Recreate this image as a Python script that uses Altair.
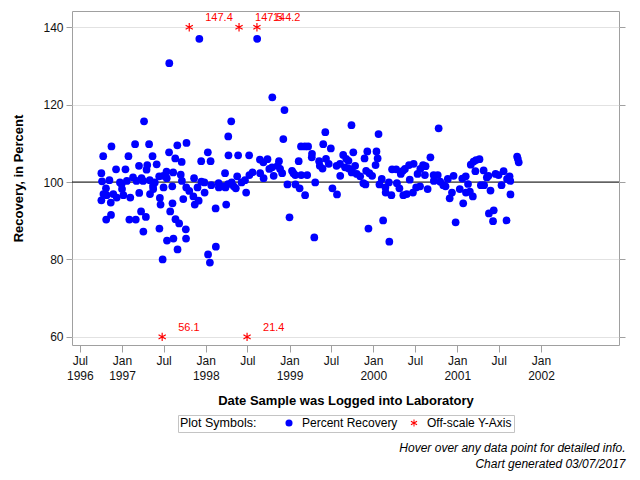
import altair as alt
import pandas as pd

# ---------------- data ----------------
dates = [
    "1996-10-03", "1996-10-06", "1996-10-11", "1996-10-12", "1996-10-03", "1996-10-23", "1996-10-26",
    "1996-11-07", "1996-11-13", "1996-10-24", "1996-11-14", "1996-11-16", "1996-11-24", "1996-12-06",
    "1996-12-09", "1996-12-23", "1996-12-30", "1997-01-01", "1997-01-07", "1997-01-16", "1997-01-22",
    "1997-01-29", "1997-02-02", "1997-02-06", "1997-02-18", "1997-02-27", "1997-03-02", "1997-03-05",
    "1997-03-16", "1997-03-17", "1997-03-27", "1997-03-25", "1997-04-03", "1997-04-04", "1997-04-07",
    "1997-04-15", "1997-04-18", "1997-04-21", "1997-04-29", "1997-05-02", "1997-05-03", "1997-05-14",
    "1997-05-16", "1997-05-17", "1997-05-24", "1997-06-01", "1997-06-12", "1997-06-15", "1997-06-18",
    "1997-06-13", "1997-06-27", "1997-06-30", "1997-07-01", "1997-07-14", "1997-07-15", "1997-07-16",
    "1997-07-25", "1997-07-26", "1997-07-30", "1997-08-08", "1997-08-09", "1997-08-12", "1997-08-13",
    "1997-08-21", "1997-08-22", "1997-08-30", "1997-08-31", "1997-09-07", "1997-09-14", "1997-09-18",
    "1997-09-19", "1997-09-25", "1997-10-06", "1997-10-07", "1997-10-08", "1997-10-09", "1997-10-21",
    "1997-11-08", "1997-11-11", "1997-11-14", "1997-11-26", "1997-12-01", "1997-12-04", "1997-12-12",
    "1997-12-13", "1997-12-26", "1997-12-27", "1998-01-10", "1998-01-11", "1998-01-19", "1998-01-22",
    "1998-01-25", "1998-02-13", "1998-02-14", "1998-02-26", "1998-02-27", "1998-03-17", "1998-03-28",
    "1998-03-26", "1998-03-31", "1998-04-09", "1998-04-22", "1998-04-10", "1998-04-08", "1998-05-22",
    "1998-04-24", "1998-05-03", "1998-05-12", "1998-05-18", "1998-06-06", "1998-06-21", "1998-06-26",
    "1998-07-09", "1998-07-10", "1998-07-24", "1998-08-13", "1998-08-25", "1998-09-09", "1998-09-27",
    "1998-08-26", "1998-09-10", "1998-10-05", "1998-10-17", "1998-10-24", "1998-10-18", "1998-11-16",
    "1998-11-10", "1998-11-21", "1998-11-30", "1998-12-10", "1998-12-05", "1998-12-23", "1999-01-01",
    "1999-01-12", "1999-01-18", "1999-01-26", "1999-01-27", "1999-02-14", "1999-02-10", "1999-02-20",
    "1999-03-09", "1999-03-23", "1999-02-21", "1999-03-19", "1999-03-10", "1999-04-09", "1999-04-08",
    "1999-04-23", "1999-04-19", "1999-05-10", "1999-05-13", "1999-05-25", "1999-05-28", "1999-06-06",
    "1999-06-09", "1999-06-21", "1999-06-30", "1999-07-07", "1999-07-27", "1999-07-25", "1999-08-09",
    "1999-08-10", "1999-08-23", "1999-09-05", "1999-09-15", "1999-08-31", "1999-09-16", "1999-09-30",
    "1999-10-14", "1999-09-29", "1999-10-21", "1999-11-05", "1999-09-28", "1999-10-06", "1999-11-19",
    "1999-11-28", "1999-11-24", "1999-12-06", "1999-12-01", "1999-12-15", "1999-12-27", "1999-12-11",
    "2000-01-15", "2000-01-20", "2000-01-11", "2000-01-24", "2000-01-28", "2000-02-07", "2000-02-13",
    "2000-02-23", "2000-02-24", "2000-03-09", "2000-03-20", "2000-03-11", "2000-03-23", "2000-04-10",
    "2000-04-30", "2000-05-09", "2000-05-18", "2000-06-05", "2000-06-25", "2000-04-13", "2000-04-24",
    "2000-05-11", "2000-05-26", "2000-06-08", "2000-06-22", "2000-07-06", "2000-07-23", "2000-08-25",
    "2000-07-12", "2000-07-24", "2000-08-05", "2000-08-16", "2000-08-13", "2000-09-06", "2000-09-20",
    "2000-10-08", "2000-09-21", "2000-10-19", "2000-10-12", "2000-11-01", "2000-11-11", "2000-11-21",
    "2000-11-29", "2000-12-09", "2000-12-16", "2000-12-25", "2001-01-12", "2001-01-23", "2001-01-27",
    "2001-02-07", "2001-02-17", "2001-02-25", "2001-02-08", "2001-03-10", "2001-03-01", "2001-03-13",
    "2001-03-24", "2001-04-08", "2001-03-21", "2001-04-26", "2001-04-14", "2001-04-28", "2001-05-10",
    "2001-05-17", "2001-05-26", "2001-05-19", "2001-06-09", "2001-06-06", "2001-06-17", "2001-06-30",
    "2001-07-13", "2001-07-22", "2001-08-06", "2001-08-17", "2001-08-20", "2001-08-04", "2001-08-21",
    "2001-09-19", "2001-09-22", "2001-09-26",
]
recovery = [
    102.3, 100.2, 106.7, 96.9, 95.3, 98.4, 96.6,
    100.5, 94.7, 90.3, 91.5, 109.2, 96.9, 103.3,
    96.0, 99.9, 99.5, 98.2, 96.6, 103.3, 100.3,
    106.7, 90.3, 96.0, 101.2, 109.8, 90.3, 100.3,
    104.2, 97.2, 101.0, 92.4, 100.3, 87.2, 115.7,
    91.0, 103.2, 104.4, 109.8, 100.5, 96.9, 106.7,
    99.0, 98.2, 99.9, 104.6, 101.5, 95.9, 94.2,
    88.0, 80.0, 101.6, 98.6, 102.7, 101.0, 84.9,
    107.7, 130.7, 92.4, 98.9, 94.5, 102.5, 85.4,
    106.1, 90.4, 109.5, 82.6, 89.3, 101.9, 105.2,
    100.3, 95.6, 87.8, 85.4, 98.6, 110.1, 97.7,
    96.3, 101.0, 94.2, 98.6, 95.2, 137.0, 105.4,
    100.1, 99.9, 97.3, 107.7, 81.3, 79.2, 105.4,
    99.2, 93.2, 83.3, 99.7, 98.6, 98.9, 98.6,
    102.3, 94.2, 111.8, 115.7, 106.9, 99.5, 106.9,
    99.9, 98.9, 98.4, 101.5, 99.9, 100.5, 97.3,
    106.9, 101.8, 102.5, 137.0, 105.8, 105.1, 105.9,
    102.3, 101.0, 103.4, 103.8, 101.6, 121.9, 105.4,
    104.2, 103.4, 102.3, 118.6, 111.1, 99.4, 90.9,
    102.9, 102.3, 101.8, 99.4, 98.4, 105.4, 109.2,
    109.2, 109.2, 101.8, 101.8, 96.6, 107.3, 106.4,
    99.9, 85.7, 105.4, 104.2, 103.5, 109.8, 112.9,
    106.0, 104.7, 108.7, 98.4, 96.8, 104.2, 104.7,
    101.6, 107.0, 106.0, 105.5, 103.8, 103.5, 103.2,
    104.2, 102.5, 102.1, 101.5, 114.7, 107.7, 99.7,
    99.4, 106.1, 107.9, 102.9, 102.3, 101.6, 88.0,
    107.9, 106.1, 104.4, 112.4, 99.4, 100.8, 90.1,
    98.6, 97.3, 99.9, 96.6, 84.6, 103.3, 103.3,
    102.1, 102.9, 103.4, 104.4, 104.7, 99.7, 98.4,
    96.6, 96.9, 100.6, 97.3, 98.6, 98.9, 98.2,
    102.1, 103.4, 104.4, 104.1, 101.8, 106.4, 101.8,
    101.8, 100.3, 100.1, 113.9, 99.2, 98.9, 100.8,
    95.8, 97.3, 101.6, 89.6, 98.2, 100.9, 94.5,
    101.5, 99.5, 97.5, 97.3, 96.3, 104.5, 105.3,
    105.7, 105.9, 102.8, 103.0, 99.2, 99.2, 101.2,
    101.6, 97.8, 91.9, 92.7, 89.9, 102.1, 101.8,
    99.2, 102.8, 100.8, 101.5, 100.3, 90.1, 96.8,
    106.6, 106.0, 105.1,
]

off_dates = ["1997-06-25", "1997-10-21", "1998-05-26", "1998-06-30", "1998-08-12"]
off_values = [56.1, 147.4, 147.5, 21.4, 144.2]

y_ticks = [60, 80, 100, 120, 140]
x_tick_months = [(1996, 7), (1997, 1), (1997, 7), (1998, 1), (1998, 7), (1999, 1),
                 (1999, 7), (2000, 1), (2000, 7), (2001, 1), (2001, 7), (2002, 1)]
legend_labels = ["Percent Recovery", "Off-scale Y-Axis"]
reference_value = [100]
y_low, y_high = 60, 140          # off-scale values are drawn at these bounds

# ---------------- tables ----------------
pts = pd.DataFrame({"date": dates, "y": recovery, "sym": legend_labels[0]})
off = pd.DataFrame({"date": off_dates, "value": off_values})
off["y"] = off["value"].clip(y_low, y_high)
off["label"] = off["value"].map(lambda v: f"{v:.1f}")
off["sym"] = legend_labels[1]
ref = pd.DataFrame({"ref": reference_value})

STAR = ("M-0.14,-1L0.14,-1L0.14,1L-0.14,1Z "
        "M0.796,-0.621L0.936,-0.379L-0.796,0.621L-0.936,0.379Z "
        "M-0.936,-0.379L-0.796,-0.621L0.936,0.379L0.796,0.621Z")

FONT = "Liberation Sans"
y_domain = [57.9, 144.2]
x_domain = [alt.DateTime(year=1996, month=5, date=28, utc=True),
            alt.DateTime(year=2002, month=12, date=7, utc=True)]
x_ticks = [alt.DateTime(year=y, month=m, date=1, utc=True) for y, m in x_tick_months]

x_enc = alt.X(
    "date:T",
    scale=alt.Scale(type="utc", domain=x_domain),
    axis=alt.Axis(
        values=x_ticks,
        labelExpr=("(utcmonth(datum.value) == 0 || datum.index == 0) ? "
                   "[utcFormat(datum.value, '%b'), utcFormat(datum.value, '%Y')] : "
                   "utcFormat(datum.value, '%b')"),
        labelLineHeight=15, labelFontSize=12, labelPadding=3, labelFlush=False,
        labelOverlap=False, labelColor="#111", tickSize=7, grid=False, domain=False,
        title="Date Sample was Logged into Laboratory", titleFontSize=13,
        titleFontWeight="bold", titleColor="#000", titleX=273.5, titleY=55,
        titleBaseline="middle",
    ),
)
y_enc = alt.Y(
    "y:Q",
    scale=alt.Scale(domain=y_domain, nice=False, zero=False),
    axis=alt.Axis(
        values=y_ticks, grid=True, tickSize=6, labelFontSize=12, labelPadding=3,
        labelColor="#111", domain=False,
        title="Recovery, in Percent", titleFontSize=13, titleFontWeight="bold",
        titleColor="#000", titleX=-54, titleY=167, titleAngle=270,
        titleAlign="center", titleBaseline="middle",
    ),
)

legend = alt.Legend(
    title="Plot Symbols:", orient="none", legendX=106, legendY=404,
    direction="horizontal", titleOrient="left", titleFontSize=12.5,
    titleFontWeight="normal", titleColor="#000", titlePadding=26,
    labelFontSize=12, labelColor="#000", labelOffset=7, columnPadding=10,
    symbolSize=50, padding=2, strokeColor="#c4c4c4", fillColor="white",
    symbolStrokeWidth=0,
)
color_enc = alt.Color("sym:N", scale=alt.Scale(domain=legend_labels, range=["#0000ff", "#ff0000"]),
                      legend=legend)
shape_enc = alt.Shape("sym:N", scale=alt.Scale(domain=legend_labels, range=["circle", STAR]),
                      legend=legend)

points = alt.Chart(pts).mark_point(filled=True, size=60, opacity=1, strokeWidth=0).encode(
    x=x_enc, y=y_enc, color=color_enc, shape=shape_enc)
stars = alt.Chart(off).mark_point(filled=True, size=70, opacity=1, strokeWidth=0).encode(
    x=x_enc, y=y_enc, color=color_enc, shape=shape_enc)
labels = alt.Chart(off).mark_text(color="#ff0000", align="left", baseline="middle",
                                  dx=16, dy=-9, fontSize=11).encode(
    x=x_enc, y=y_enc, text="label:N")

inner = alt.layer(points, stars, labels)

rule = alt.Chart(ref).mark_rule(color="black", strokeWidth=1).encode(
    y=alt.Y("ref:Q", scale=alt.Scale(domain=y_domain, nice=False, zero=False),
            axis=alt.Axis(orient="right", values=y_ticks, labels=False, grid=False,
                          tickSize=6, domain=False, title="")))

chart = alt.layer(rule, inner).resolve_scale(y="independent").properties(
    width=547, height=334,
    autosize=alt.AutoSizeParams(type="none"),
    padding={"left": 64, "top": 3, "right": 10, "bottom": 130},
    title=alt.TitleParams(
        text="Hover over any data point for detailed info.",
        subtitle="Chart generated 03/07/2017",
        orient="bottom", anchor="end", frame="bounds", offset=10,
        fontSize=12, fontStyle="italic", fontWeight="normal", color="#000",
        subtitleFontSize=12, subtitleFontStyle="italic", subtitleColor="#000",
        subtitlePadding=4,
    ),
).configure(font=FONT).configure_view(stroke="#a0a0a0", strokeWidth=1).configure_axis(
    tickColor="#a0a0a0", gridColor="#e2e2e2", labelFont=FONT, titleFont=FONT)

chart.save("out.html", embed_options={"renderer": "svg", "actions": False})
